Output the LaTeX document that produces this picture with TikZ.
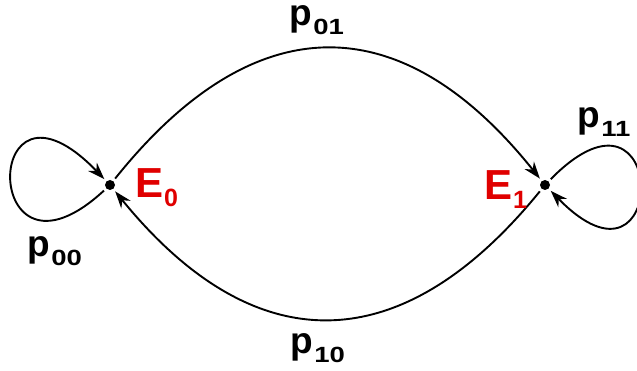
\documentclass[tikz,border=0pt]{standalone}
\usepackage{fontspec}
\setmainfont{Liberation Sans}
\usetikzlibrary{arrows.meta}
\definecolor{ered}{RGB}{224,0,0}
\newcommand\plbl[2]{\fontsize{37}{39}\selectfont\bfseries #1\kern1.5pt\raisebox{-9pt}{\scalebox{1.25}[1]{\fontsize{22}{23}\selectfont\bfseries #2}}}
\newcommand\elbl[2]{\fontsize{42}{44}\selectfont\bfseries #1\kern1pt\raisebox{-9pt}{\fontsize{25}{26}\selectfont\bfseries #2}}
\tikzset{
  dot/.style={circle,fill=black,inner sep=0pt,minimum size=10pt},
  arc/.style={line width=1.9pt,-{Stealth[length=17pt,width=12pt]},shorten >=3pt,shorten <=3pt},
  lbl/.style={inner sep=0pt,text=black,anchor=base west,text height=20pt,text depth=10pt},
  st/.style={inner sep=0pt,text=ered,anchor=base west}
}
\begin{document}
\begin{tikzpicture}[x=1pt,y=-1pt]
\useasboundingbox (0,0) rectangle (637,371);
\node[dot] (E0) at (110,185) {};
\node[dot] (E1) at (545,185) {};
\draw[arc] (E0) .. controls (254,5) and (401,5) .. (E1);
\draw[arc] (E1) .. controls (401,362) and (254,362) .. (E0);
\draw[arc] (E0) .. controls (-20,305) and (-20,50) .. (E0);
\draw[arc] (E1) .. controls (670,58) and (670,313) .. (E1);
\node[lbl] (p01) at (289,26) {\plbl{p}{01}};
\node[lbl] (p10) at (290,353) {\plbl{p}{10}};
\node[lbl] (p00) at (27,257) {\plbl{p}{00}};
\node[lbl] (p11) at (577,128) {\plbl{p}{11}};
\node[st] (l0) at (135,198) {\elbl{E}{0}};
\node[st] (l1) at (484,200) {\elbl{E}{1}};
\end{tikzpicture}
\end{document}
